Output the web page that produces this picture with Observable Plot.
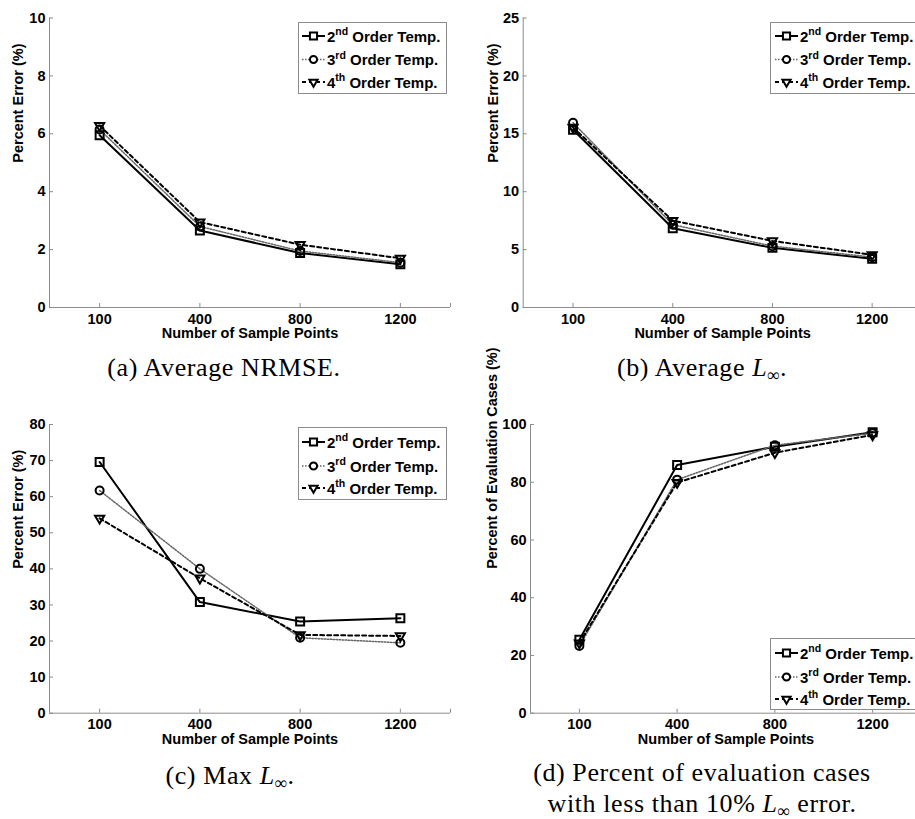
<!DOCTYPE html>
<html>
<head>
<meta charset="utf-8">
<script src="https://cdn.jsdelivr.net/npm/d3@7"></script>
<script src="https://cdn.jsdelivr.net/npm/@observablehq/plot@0.6"></script>
<style>
  html, body { margin: 0; padding: 0; background: #fff; }
  #page { position: relative; width: 915px; height: 819px; overflow: hidden; background: #fff; }
  .panel { position: absolute; }
  .panel svg { overflow: visible; max-width: none !important; height: auto; }
  .legend { position: absolute; overflow: visible; }
  .caption {
    position: absolute; transform: translateX(-50%);
    font-family: "Liberation Serif", "Times New Roman", serif;
    font-size: 26px; letter-spacing: 0.6px; line-height: 31px;
    color: #000; white-space: nowrap; text-align: center;
  }
  .caption sub { font-size: 0.68em; vertical-align: -0.28em; line-height: 0; letter-spacing: 0; }
</style>
</head>
<body>
<div id="page"></div>
<script>
// Sample-point categories shared by every panel
const samplePoints = ["100", "400", "800", "1200"];
const seriesOrders = ["2nd", "3rd", "4th"];
const xLabel = "Number of Sample Points";

// (a) Average NRMSE (%)
const nrmse2nd = [5.95, 2.66, 1.88, 1.49];
const nrmse3rd = [6.15, 2.80, 1.95, 1.55];
const nrmse4th = [6.28, 2.95, 2.17, 1.70];
const nrmseTicks = [0, 2, 4, 6, 8, 10];

// (b) Average L-infinity error (%)
const avgLinf2nd = [15.35, 6.85, 5.15, 4.20];
const avgLinf3rd = [15.95, 7.15, 5.30, 4.35];
const avgLinf4th = [15.55, 7.50, 5.75, 4.55];
const avgLinfTicks = [0, 5, 10, 15, 20, 25];

// (c) Max L-infinity error (%)
const maxLinf2nd = [69.6, 30.8, 25.4, 26.3];
const maxLinf3rd = [61.7, 40.0, 20.9, 19.5];
const maxLinf4th = [54.0, 37.4, 21.7, 21.4];
const maxLinfTicks = [0, 10, 20, 30, 40, 50, 60, 70, 80];

// (d) Percent of evaluation cases with less than 10% L-infinity error
const cases2nd = [25.4, 86.0, 92.3, 97.3];
const cases3rd = [23.3, 80.9, 92.8, 97.0];
const cases4th = [24.3, 79.9, 90.2, 96.4];
const casesTicks = [0, 20, 40, 60, 80, 100];

// Line and marker style for each template order
const seriesStyle = [
  {stroke: "#000", strokeWidth: 2, dash: null, symbol: "square", r: 4.5, rotate: 0},
  {stroke: "#666", strokeWidth: 1.5, dash: "1.5,1.5", symbol: "circle", r: 4, rotate: 0},
  {stroke: "#000", strokeWidth: 2, dash: "4,3", symbol: "triangle", r: 3.4, rotate: 180}
];

const page = document.getElementById("page");
const axisGray = "#8c8c8c";
const sansFont = "'Liberation Sans', Arial, Helvetica, sans-serif";

function makePanel({left, top, frame, yTicks, yLabel, yLabelDx, series}) {
  const [x0, x1, y0, y1] = frame;
  const marginRight = 10, marginBottom = 40;
  const width = x1 - left + marginRight;
  const height = y1 - top + marginBottom;
  const yDomain = [yTicks[0], yTicks[yTicks.length - 1]];
  const rows = series.map((vals) => vals.map((v, i) => ({i: i + 1, v})));

  const marks = [
    // axis lines
    Plot.ruleY([yDomain[0]], {stroke: axisGray, strokeWidth: 1}),
    Plot.ruleX([0.5], {stroke: axisGray, strokeWidth: 1}),
    // inward tick marks
    Plot.axisY({ticks: yTicks, tickSize: -4, text: null, label: null, stroke: axisGray}),
    Plot.axisX({ticks: [1, 2, 3, 4, 4.5], tickSize: -4, text: null, label: null, stroke: axisGray}),
    // tick labels
    Plot.axisY({ticks: yTicks, tickSize: 0, tickPadding: 4, label: null, fill: "#000", fontSize: 14.5}),
    Plot.axisX({ticks: [1, 2, 3, 4], tickSize: 0, tickPadding: 6, label: null, fill: "#000", fontSize: 14.5,
      tickFormat: (i) => samplePoints[i - 1]}),
    // axis titles
    Plot.text([xLabel], {frameAnchor: "bottom", dy: 26, lineAnchor: "middle", fill: "#000", fontSize: 14.5}),
    Plot.text([yLabel], {frameAnchor: "left", dx: yLabelDx, rotate: -90, lineAnchor: "middle", fill: "#000", fontSize: 14.5})
  ];

  rows.forEach((data, k) => {
    const s = seriesStyle[k];
    marks.push(Plot.line(data, {x: "i", y: "v", stroke: s.stroke, strokeWidth: s.strokeWidth,
      strokeDasharray: s.dash, strokeLinejoin: "round"}));
  });
  rows.forEach((data, k) => {
    const s = seriesStyle[k];
    marks.push(Plot.dot(data, {x: "i", y: "v", symbol: s.symbol, r: s.r, rotate: s.rotate,
      stroke: "#000", strokeWidth: 2, fill: "none"}));
  });

  const svg = Plot.plot({
    width, height,
    marginLeft: x0 - left, marginRight, marginTop: y0 - top, marginBottom,
    style: {fontFamily: sansFont, fontWeight: "bold", fontSize: "14.5px", color: "#000",
      background: "transparent", overflow: "visible", maxWidth: "none"},
    x: {type: "linear", domain: [0.5, 4.5], axis: null},
    y: {type: "linear", domain: yDomain, axis: null},
    marks
  });
  const holder = document.createElement("div");
  holder.className = "panel";
  holder.style.left = left + "px";
  holder.style.top = top + "px";
  holder.style.width = width + "px";
  holder.style.height = height + "px";
  holder.appendChild(svg);
  page.appendChild(holder);
}

function makeLegend({left, top, width, height, sample, textX, rowsY}) {
  const svg = d3.select(page).append("svg")
    .attr("class", "legend")
    .style("left", left + "px").style("top", top + "px")
    .attr("width", width + 1).attr("height", height + 1);
  svg.append("rect").attr("x", 0.5).attr("y", 0.5).attr("width", width).attr("height", height)
    .attr("fill", "#fff").attr("stroke", axisGray).attr("stroke-width", 1);
  const sizeFor = (s) => Math.PI * s.r * s.r * 0.8;
  seriesOrders.forEach((ord, k) => {
    const s = seriesStyle[k];
    const y = rowsY[k];
    const mid = (sample[0] + sample[1]) / 2;
    svg.append("line").attr("x1", sample[0]).attr("x2", sample[1]).attr("y1", y).attr("y2", y)
      .attr("stroke", s.stroke).attr("stroke-width", s.strokeWidth)
      .attr("stroke-dasharray", s.dash);
    const sym = {square: d3.symbolSquare, circle: d3.symbolCircle, triangle: d3.symbolTriangle}[s.symbol];
    svg.append("path").attr("d", d3.symbol(sym, sizeFor(s))())
      .attr("transform", `translate(${mid},${y}) rotate(${s.rotate})`)
      .attr("fill", "#fff").attr("stroke", "#000").attr("stroke-width", 2);
    const t = svg.append("text").attr("x", textX).attr("y", y + 5.5)
      .attr("font-family", sansFont).attr("font-weight", "bold").attr("font-size", "15px")
      .attr("fill", "#000");
    t.append("tspan").text(ord[0]);
    t.append("tspan").attr("dy", -6.5).attr("font-size", "10.5px").text(ord.slice(1));
    t.append("tspan").attr("dy", 6.5).text(" Order Temp.");
  });
}

function makeCaption(html, cx, cy) {
  const div = document.createElement("div");
  div.className = "caption";
  div.innerHTML = html;
  div.style.left = cx + "px";
  div.style.top = (cy - 15.5) + "px";
  page.appendChild(div);
}

// Panel frames: [left, right, top, bottom] of the plotting area in page pixels
makePanel({left: 0, top: 0, frame: [49, 450, 17.5, 307], yTicks: nrmseTicks,
  yLabel: "Percent Error (%)", yLabelDx: -31, series: [nrmse2nd, nrmse3rd, nrmse4th]});
makePanel({left: 455, top: 0, frame: [522.7, 921.5, 17.5, 307], yTicks: avgLinfTicks,
  yLabel: "Percent Error (%)", yLabelDx: -29.5, series: [avgLinf2nd, avgLinf3rd, avgLinf4th]});
makePanel({left: 0, top: 400, frame: [49, 450, 424, 712.7], yTicks: maxLinfTicks,
  yLabel: "Percent Error (%)", yLabelDx: -30.7, series: [maxLinf2nd, maxLinf3rd, maxLinf4th]});
makePanel({left: 455, top: 400, frame: [530, 921, 424, 712.7], yTicks: casesTicks,
  yLabel: "Percent of Evaluation Cases (%)", yLabelDx: -38.3, series: [cases2nd, cases3rd, cases4th]});

makeLegend({left: 298, top: 22, width: 148, height: 71, sample: [4, 27], textX: 29, rowsY: [14, 37.5, 60]});
makeLegend({left: 770, top: 22, width: 152, height: 71, sample: [5, 28], textX: 30, rowsY: [14, 37.5, 60]});
makeLegend({left: 298, top: 427, width: 148, height: 72, sample: [4, 27], textX: 29, rowsY: [15, 39, 61]});
makeLegend({left: 770, top: 638, width: 152, height: 71, sample: [5, 28], textX: 30, rowsY: [15, 39, 61]});

makeCaption("(a) Average NRMSE.", 224, 367);
makeCaption("(b) Average <i>L</i><sub>∞</sub>.", 702, 367);
makeCaption("(c) Max <i>L</i><sub>∞</sub>.", 230, 775);
makeCaption("(d) Percent of evaluation cases<br>with less than 10% <i>L</i><sub>∞</sub> error.", 702, 772);
</script>
</body>
</html>
